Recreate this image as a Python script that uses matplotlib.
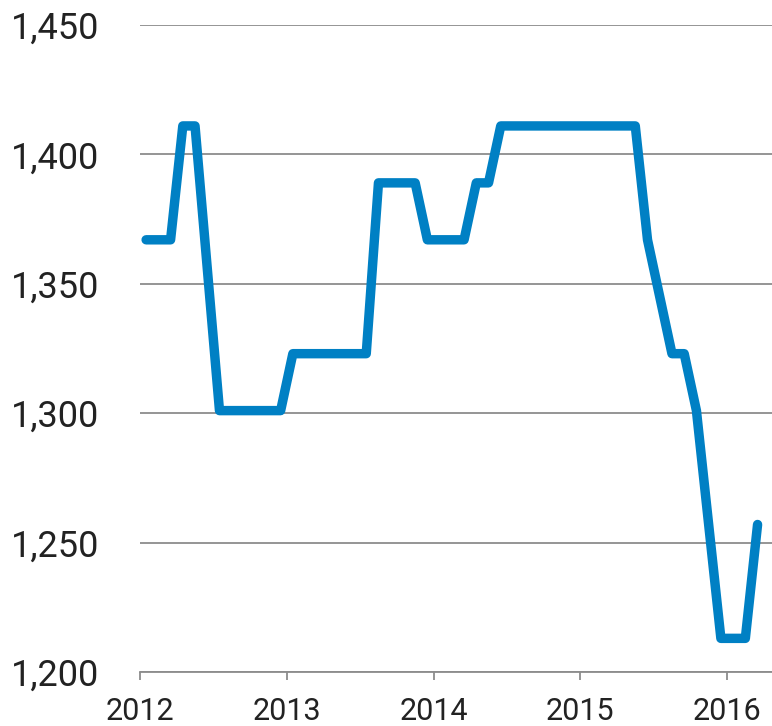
import matplotlib
matplotlib.use("Agg")
import matplotlib.pyplot as plt
import numpy as np

# monthly values, Jan 2012 .. Mar 2016
values_2012 = [1367, 1367, 1367, 1411, 1411, 1356, 1301, 1301, 1301, 1301, 1301, 1301]
values_2013 = [1323, 1323, 1323, 1323, 1323, 1323, 1323, 1389, 1389, 1389, 1389, 1367]
values_2014 = [1367, 1367, 1367, 1389, 1389, 1411, 1411, 1411, 1411, 1411, 1411, 1411]
values_2015 = [1411, 1411, 1411, 1411, 1411, 1367, 1345, 1323, 1323, 1301, 1257, 1213]
values_2016 = [1213, 1213, 1257]

year_ticks = [2012, 2013, 2014, 2015, 2016]
y_ticks = [1200, 1250, 1300, 1350, 1400, 1450]
y_labels = ["1,200", "1,250", "1,300", "1,350", "1,400", "1,450"]

values = values_2012 + values_2013 + values_2014 + values_2015 + values_2016
x = 2012 + (np.arange(len(values)) + 0.5) / 12.0

plt.rcParams['font.family'] = ['Roboto', 'DejaVu Sans']

fig = plt.figure(figsize=(7.72, 7.26), dpi=100)
ax = fig.add_axes([140 / 772, 1 - 672 / 726, 1 - 140 / 772, (672 - 25) / 726])

ax.plot(x, values, color='#0080c4', lw=6.8, solid_joinstyle='round',
        solid_capstyle='round', zorder=3, clip_on=False)

ax.set_xlim(2012, 2012 + (772 - 140) / 146.75)
ax.set_ylim(1200, 1450)

ax.set_yticks(y_ticks)
ax.set_yticklabels(y_labels)
ax.set_xticks(year_ticks)
ax.set_xticklabels([str(y) for y in year_ticks])

ax.yaxis.grid(True, color='#8c8c8c', lw=1.3)
ax.set_axisbelow(True)
for s in ['top', 'right', 'left']:
    ax.spines[s].set_visible(False)
ax.spines['bottom'].set_color('#8c8c8c')
ax.spines['bottom'].set_linewidth(1.3)

ax.tick_params(axis='y', length=0, pad=93, labelsize=26, labelcolor='#222222')
for lab in ax.get_yticklabels():
    lab.set_horizontalalignment('left')
ax.tick_params(axis='x', length=6, width=1.3, color='#8c8c8c', pad=12,
               labelsize=22, labelcolor='#222222')

fig.savefig("out.png", dpi=100)
